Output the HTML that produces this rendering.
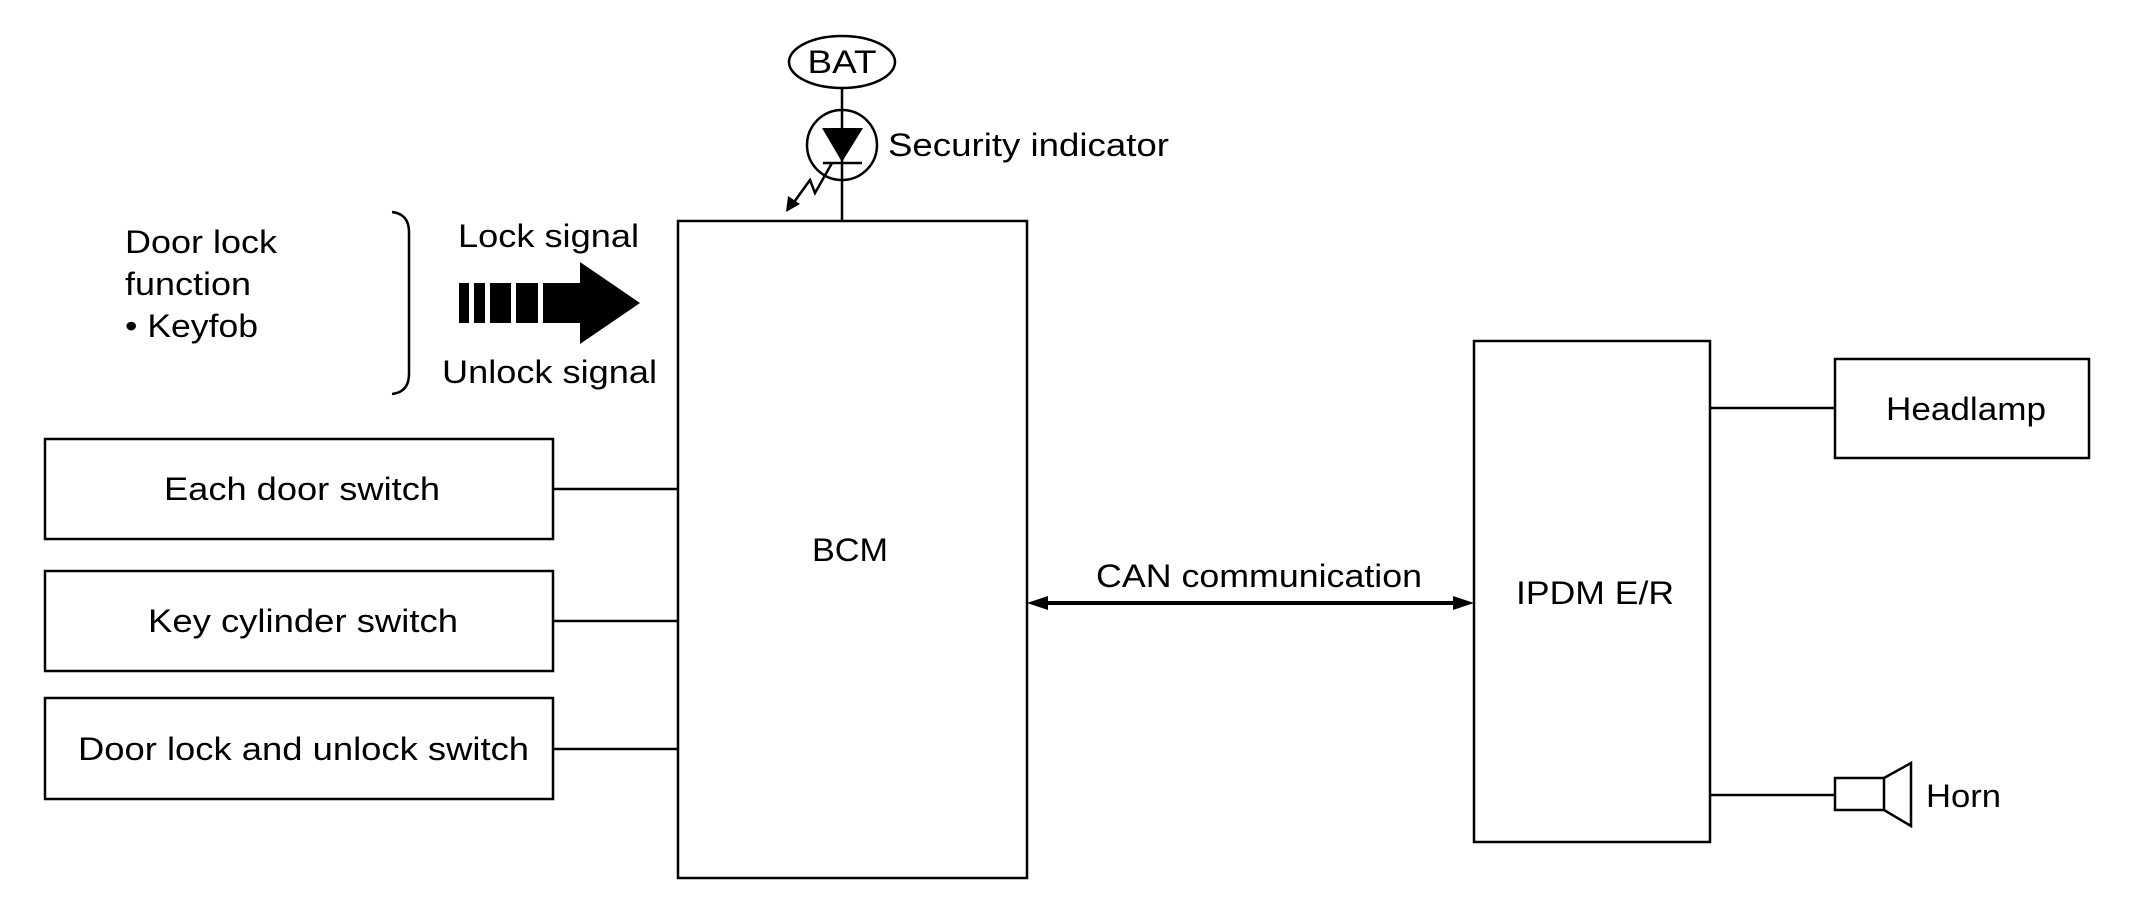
<!DOCTYPE html>
<html><head><meta charset="utf-8"><style>
html,body{margin:0;padding:0;background:#fff}
svg{display:block}
text{font-family:"Liberation Sans",sans-serif;font-size:32px;fill:#000}
</style></head><body>
<svg width="2130" height="897" viewBox="0 0 2130 897" xmlns="http://www.w3.org/2000/svg">
<g fill="none" stroke="#000" stroke-width="2.5">
<ellipse cx="842" cy="62" rx="53" ry="26"/>
<line x1="842" y1="88" x2="842" y2="221"/>
<circle cx="842" cy="145" r="35"/>
<line x1="823" y1="163" x2="862" y2="163"/>
<polyline points="832,163 815,193 810,180 792,205"/>
<rect x="678" y="221" width="349" height="657"/>
<rect x="45" y="439" width="508" height="100"/>
<rect x="45" y="571" width="508" height="100"/>
<rect x="45" y="698" width="508" height="101"/>
<line x1="553" y1="489" x2="678" y2="489"/>
<line x1="553" y1="621" x2="678" y2="621"/>
<line x1="553" y1="749" x2="678" y2="749"/>
<rect x="1474" y="341" width="236" height="501"/>
<rect x="1835" y="359" width="254" height="99"/>
<line x1="1710" y1="408" x2="1835" y2="408"/>
<line x1="1710" y1="795" x2="1835" y2="795"/>
<rect x="1835" y="778" width="49" height="32"/>
<polyline points="1884,778 1911,763 1911,826 1884,810"/>
<path d="M392,212 Q409,214 409,232 L409,374 Q409,392 392,394"/>
<line x1="1040" y1="603" x2="1460" y2="603" stroke-width="4"/>
</g>
<polygon points="822,128 863,128 842,162" fill="#000"/>
<polygon points="786,212 788,196 800,204" fill="#000"/>
<polygon points="1027,603 1048,596 1048,610" fill="#000"/>
<polygon points="1474,603 1453,596 1453,610" fill="#000"/>
<g fill="#000">
<rect x="459" y="283" width="10" height="40"/>
<rect x="474" y="283" width="11" height="40"/>
<rect x="490" y="283" width="21" height="40"/>
<rect x="516" y="283" width="22" height="40"/>
<rect x="543" y="283" width="39" height="40"/>
<polygon points="580,262 640,303 580,344"/>
</g>
<text x="842" y="73" text-anchor="middle" textLength="69" lengthAdjust="spacingAndGlyphs">BAT</text>
<text x="888" y="156" textLength="281" lengthAdjust="spacingAndGlyphs">Security indicator</text>
<text x="125" y="253" textLength="152" lengthAdjust="spacingAndGlyphs">Door lock</text>
<text x="125" y="295" textLength="126" lengthAdjust="spacingAndGlyphs">function</text>
<text x="125" y="337" textLength="133" lengthAdjust="spacingAndGlyphs">• Keyfob</text>
<text x="458" y="247" textLength="181" lengthAdjust="spacingAndGlyphs">Lock signal</text>
<text x="442" y="383" textLength="215" lengthAdjust="spacingAndGlyphs">Unlock signal</text>
<text x="164" y="500" textLength="276" lengthAdjust="spacingAndGlyphs">Each door switch</text>
<text x="148" y="632" textLength="310" lengthAdjust="spacingAndGlyphs">Key cylinder switch</text>
<text x="78" y="760" textLength="451" lengthAdjust="spacingAndGlyphs">Door lock and unlock switch</text>
<text x="812" y="561" textLength="76" lengthAdjust="spacingAndGlyphs">BCM</text>
<text x="1096" y="587" textLength="326" lengthAdjust="spacingAndGlyphs">CAN communication</text>
<text x="1516" y="604" textLength="158" lengthAdjust="spacingAndGlyphs">IPDM E/R</text>
<text x="1886" y="420" textLength="160" lengthAdjust="spacingAndGlyphs">Headlamp</text>
<text x="1926" y="807" textLength="75" lengthAdjust="spacingAndGlyphs">Horn</text>
</svg>
</body></html>
